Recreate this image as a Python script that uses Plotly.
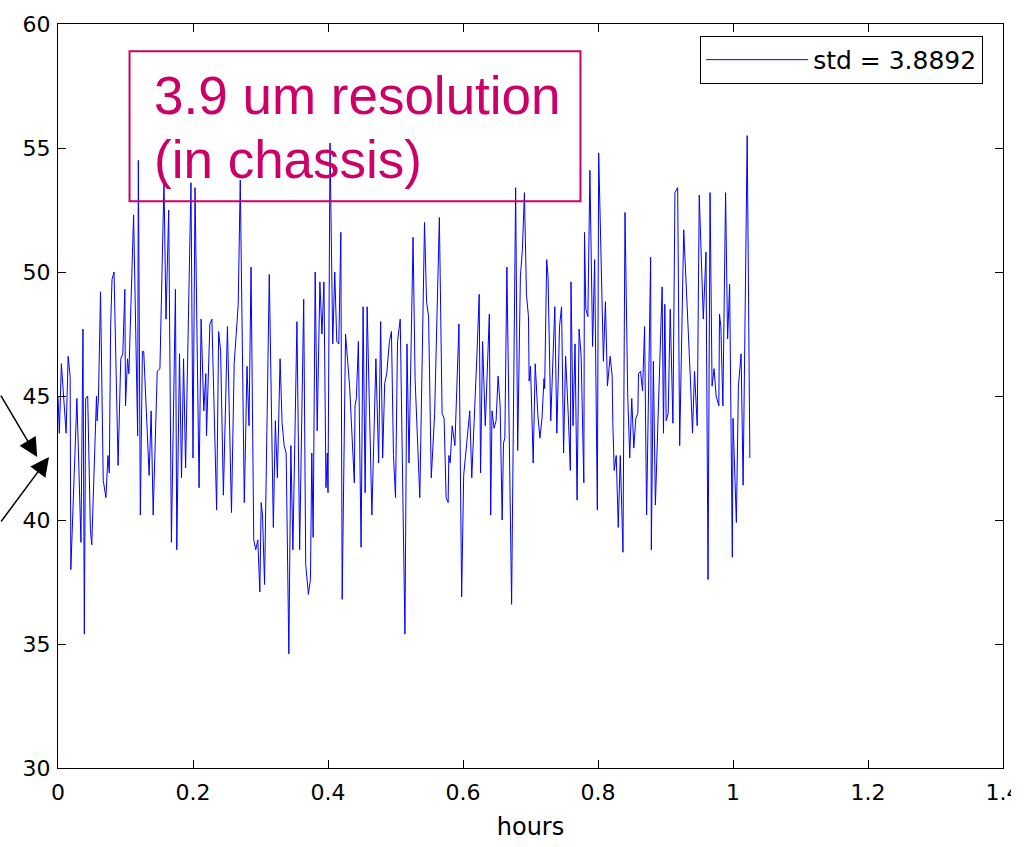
import plotly.graph_objects as go

# Measurement time (hours) and position reading (um)
hours = [
    0.000, 0.002, 0.005, 0.012, 0.015, 0.018, 0.019, 0.028, 0.034, 0.037,
    0.039, 0.041, 0.044, 0.048, 0.050, 0.057, 0.058, 0.060, 0.063, 0.067,
    0.071, 0.074, 0.076, 0.078, 0.080, 0.083, 0.089, 0.093, 0.096, 0.099,
    0.100, 0.103, 0.105, 0.112, 0.118, 0.119, 0.122, 0.125, 0.127, 0.135,
    0.138, 0.141, 0.147, 0.151, 0.157, 0.160, 0.164, 0.168, 0.174, 0.176,
    0.180, 0.183, 0.186, 0.189, 0.197, 0.200, 0.203, 0.209, 0.212, 0.216,
    0.219, 0.220, 0.225, 0.228, 0.235, 0.238, 0.241, 0.245, 0.251, 0.257,
    0.261, 0.267, 0.270, 0.276, 0.280, 0.283, 0.286, 0.290, 0.293, 0.296,
    0.299, 0.301, 0.303, 0.306, 0.313, 0.319, 0.322, 0.325, 0.329, 0.332,
    0.335, 0.338, 0.342, 0.345, 0.348, 0.354, 0.358, 0.364, 0.367, 0.371,
    0.374, 0.376, 0.378, 0.381, 0.384, 0.388, 0.391, 0.394, 0.397, 0.399,
    0.400, 0.403, 0.407, 0.410, 0.413, 0.416, 0.419, 0.421, 0.426, 0.432,
    0.439, 0.440, 0.442, 0.445, 0.449, 0.452, 0.455, 0.458, 0.465, 0.471,
    0.475, 0.478, 0.481, 0.484, 0.487, 0.491, 0.494, 0.497, 0.500, 0.503,
    0.507, 0.514, 0.517, 0.520, 0.526, 0.529, 0.536, 0.543, 0.546, 0.549,
    0.553, 0.558, 0.565, 0.569, 0.572, 0.575, 0.578, 0.579, 0.581, 0.584,
    0.588, 0.594, 0.598, 0.601, 0.610, 0.613, 0.621, 0.624, 0.626, 0.629,
    0.633, 0.639, 0.641, 0.643, 0.646, 0.649, 0.652, 0.655, 0.658, 0.660,
    0.662, 0.665, 0.672, 0.678, 0.681, 0.685, 0.688, 0.691, 0.694, 0.697,
    0.698, 0.700, 0.704, 0.707, 0.711, 0.714, 0.717, 0.720, 0.721, 0.724,
    0.726, 0.730, 0.736, 0.739, 0.743, 0.746, 0.749, 0.752, 0.756, 0.759,
    0.760, 0.763, 0.766, 0.769, 0.772, 0.775, 0.779, 0.780, 0.782, 0.785,
    0.788, 0.792, 0.795, 0.799, 0.801, 0.805, 0.808, 0.811, 0.814, 0.818,
    0.821, 0.822, 0.824, 0.827, 0.830, 0.833, 0.837, 0.840, 0.844, 0.847,
    0.850, 0.853, 0.856, 0.859, 0.860, 0.863, 0.866, 0.869, 0.872, 0.878,
    0.879, 0.882, 0.885, 0.895, 0.897, 0.899, 0.901, 0.904, 0.907, 0.911,
    0.914, 0.918, 0.921, 0.927, 0.933, 0.937, 0.940, 0.943, 0.947, 0.950,
    0.956, 0.960, 0.963, 0.966, 0.969, 0.972, 0.975, 0.979, 0.980, 0.982,
    0.985, 0.989, 0.992, 0.995, 0.999, 1.000, 1.005, 1.008, 1.012, 1.015,
    1.021, 1.025,
]

position = [
    45.0, 43.5, 46.3, 43.5, 46.6, 45.8, 38.0, 44.9, 39.1, 47.7,
    35.4, 44.9, 45.0, 39.6, 39.0, 45.0, 44.0, 45.0, 49.2, 41.6,
    40.9, 42.6, 41.9, 47.8, 49.7, 50.0, 42.2, 46.5, 46.7, 49.3,
    44.6, 46.5, 45.9, 52.3, 43.4, 54.5, 40.2, 46.8, 46.8, 41.8,
    44.4, 40.2, 46.0, 46.1, 53.7, 48.1, 52.5, 39.1, 49.3, 38.8,
    46.7, 41.7, 46.5, 42.1, 53.6, 42.5, 53.4, 41.3, 48.1, 44.4,
    45.9, 43.4, 47.9, 48.1, 40.4, 47.6, 46.8, 41.0, 47.8, 40.3,
    46.3, 48.7, 53.7, 40.7, 46.2, 43.8, 50.2, 39.2, 38.8, 39.2,
    37.1, 40.7, 40.2, 37.4, 49.9, 39.7, 44.0, 41.7, 46.5, 43.9,
    43.0, 42.7, 34.6, 43.0, 38.8, 48.0, 38.8, 48.9, 38.2, 37.0,
    37.6, 42.7, 39.3, 50.0, 43.6, 49.6, 47.5, 49.6, 41.3, 42.7,
    41.1, 55.2, 47.1, 50.0, 47.2, 47.1, 51.6, 36.8, 47.5, 45.4,
    41.5, 44.6, 44.9, 47.2, 38.9, 48.6, 41.1, 48.6, 40.2, 46.5,
    42.3, 48.0, 42.5, 45.5, 45.9, 47.2, 47.6, 42.6, 40.9, 47.2,
    48.1, 35.4, 47.1, 42.3, 51.4, 45.7, 40.9, 52.0, 48.8, 48.2,
    41.7, 44.3, 52.2, 44.3, 44.1, 40.9, 40.7, 42.6, 42.3, 43.8,
    43.0, 47.9, 36.9, 41.8, 44.4, 41.7, 46.9, 49.1, 41.9, 47.2,
    43.8, 48.3, 40.2, 44.4, 43.7, 44.0, 45.8, 44.6, 40.0, 43.1,
    43.3, 50.2, 36.6, 53.4, 42.8, 49.8, 50.9, 53.2, 49.1, 48.2,
    45.6, 46.2, 42.3, 46.3, 44.2, 43.3, 44.1, 45.7, 45.3, 50.5,
    49.8, 44.0, 48.6, 43.5, 47.8, 48.6, 42.7, 46.6, 44.2, 42.0,
    49.6, 43.8, 47.1, 40.8, 47.7, 46.6, 41.5, 51.6, 48.5, 48.2,
    54.1, 47.0, 50.5, 40.4, 54.8, 49.5, 46.4, 48.8, 45.4, 46.6,
    45.8, 43.9, 42.0, 42.6, 39.7, 42.6, 38.7, 52.4, 45.1, 42.5,
    44.9, 42.9, 44.1, 44.3, 45.9, 46.0, 45.2, 47.8, 40.2, 50.6,
    38.8, 46.4, 40.6, 49.4, 43.5, 48.7, 44.0, 44.3, 48.5, 43.9,
    53.2, 53.4, 43.0, 51.7, 48.3, 45.6, 43.5, 46.0, 43.8, 53.1,
    48.1, 50.8, 37.6, 53.2, 45.4, 46.1, 45.0, 44.6, 48.3, 47.8,
    44.6, 53.2, 47.3, 49.5, 38.5, 44.1, 39.9, 45.4, 46.7, 41.4,
    55.5, 42.5,
]

legend_label = "std = 3.8892"
note_lines = ["3.9 um resolution", "(in chassis)"]
x_ticks = [0, 0.2, 0.4, 0.6, 0.8, 1.0, 1.2, 1.4]
x_tick_text = ["0", "0.2", "0.4", "0.6", "0.8", "1", "1.2", "1.4"]
y_ticks = [30, 35, 40, 45, 50, 55, 60]

AXFONT = "DejaVu Sans, Verdana, sans-serif"
NOTEFONT = "Liberation Sans, Arial, sans-serif"
MAGENTA = "#CC0066"

fig = go.Figure()
fig.add_trace(go.Scatter(
    x=hours, y=position, mode="lines", name=legend_label,
    line=dict(color="#0000FF", width=1),
))

axis_common = dict(
    showline=True, linecolor="black", linewidth=1, mirror="ticks",
    ticks="inside", ticklen=8, tickcolor="black", tickwidth=1,
    showgrid=False, zeroline=False,
    tickfont=dict(family=AXFONT, size=22, color="black"),
)

fig.update_xaxes(
    range=[0, 1.4], tickvals=x_ticks, ticktext=x_tick_text,
    ticklabelstandoff=5,
    title=dict(text="hours", font=dict(family=AXFONT, size=24, color="black"), standoff=13),
    **axis_common,
)
fig.update_yaxes(
    range=[30, 60], tickvals=y_ticks, ticklabelstandoff=2,
    **axis_common,
)

# Boxed note in the upper left
fig.add_shape(type="rect", xref="x", yref="y", x0=0.106, x1=0.774, y0=52.85, y1=58.9,
              line=dict(color=MAGENTA, width=2), fillcolor="rgba(0,0,0,0)", layer="above")
fig.add_annotation(x=0.1397, y=57.12, xref="x", yref="y", text=note_lines[0],
                   showarrow=False, xanchor="left", yanchor="middle",
                   font=dict(family=NOTEFONT, size=53, color=MAGENTA))
fig.add_annotation(x=0.1397, y=54.55, xref="x", yref="y", text=note_lines[1],
                   showarrow=False, xanchor="left", yanchor="middle",
                   font=dict(family=NOTEFONT, size=53, color=MAGENTA))

# Two arrows entering from the left margin
for tip_x, ax, ay in [(-0.022, -40, -63), (-0.0095, -52, 66)]:
    fig.add_annotation(x=tip_x, y=0.418, xref="paper", yref="paper", text="",
                       showarrow=True, arrowhead=2, arrowsize=2.5, arrowwidth=1.5,
                       arrowcolor="black", ax=ax, ay=ay, standoff=0)

# White strip past the right edge of the page area
fig.add_shape(type="rect", xref="paper", yref="paper", x0=1.0085, x1=1.06, y0=-0.2, y1=1.1,
              line=dict(width=0), fillcolor="white", layer="above")

fig.update_layout(
    width=1033, height=847,
    margin=dict(l=58, r=23, t=19, b=76),
    paper_bgcolor="white", plot_bgcolor="white",
    showlegend=True,
    legend=dict(
        x=0.979, y=0.984, xanchor="right", yanchor="top",
        bgcolor="white", bordercolor="black", borderwidth=1,
        font=dict(family=AXFONT, size=25, color="black"),
        itemwidth=102,
    ),
)

fig.write_html("out.html")
